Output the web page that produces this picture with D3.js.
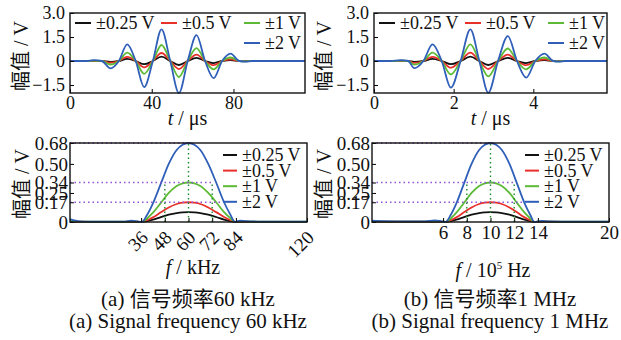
<!DOCTYPE html>
<html>
<head>
<meta charset="utf-8">
<script src="https://cdn.jsdelivr.net/npm/d3@7"></script>
<style>
  body { margin: 0; background: #fff; }
  svg { display: block; font-family: "Liberation Serif", "Noto Sans CJK SC", serif; }
  .domain { display: none; }
</style>
</head>
<body>
<script>
// Chart values

const seriesLabels = ["±0.25 V", "±0.5 V", "±1 V", "±2 V"];

// (a) 60 kHz tone burst, time in us
const time60 = [0, 8, 11.5, 15.6, 19.8, 23.9, 28, 32.15, 36.3, 40.55, 44.8, 49.05, 53.3, 57.6, 61.9, 66.1, 70.3, 74.45, 78.6, 82.8, 86, 89, 115];
const wave60_025 = [0, 0, 0.01, 0, -0.06, 0, 0.13, 0, -0.2, 0, 0.27, 0, -0.25, 0, 0.2, 0, -0.13, 0, 0.06, 0, 0, 0, 0];
const wave60_05 = [0, 0, 0.01, 0, -0.11, 0, 0.26, 0, -0.4, 0, 0.5, 0, -0.5, 0, 0.4, 0, -0.26, 0, 0.11, 0, -0.01, 0, 0];
const wave60_1 = [0, 0, 0.02, 0, -0.22, 0, 0.52, 0, -0.8, 0, 1.0, 0, -1.0, 0, 0.8, 0, -0.52, 0, 0.22, 0, -0.02, 0, 0];
const wave60_2 = [0, 0, 0.05, 0, -0.46, 0, 1.04, 0, -1.63, 0, 1.98, 0, -2.0, 0, 1.62, 0, -1.07, 0, 0.46, 0, -0.04, 0, 0];

// (b) 1 MHz tone burst, time in us
const time1M = [0, 0.4, 0.68, 0.86, 1.01, 1.24, 1.47, 1.7, 1.93, 2.175, 2.42, 2.645, 2.87, 3.115, 3.36, 3.59, 3.82, 4.05, 4.28, 4.5, 4.65, 4.8, 5.85];
const wave1M_025 = [0, 0, 0.01, 0, -0.06, 0, 0.13, 0, -0.2, 0, 0.27, 0, -0.25, 0, 0.2, 0, -0.13, 0, 0.06, 0, 0, 0, 0];
const wave1M_05 = [0, 0, 0.01, 0, -0.12, 0, 0.26, 0, -0.42, 0, 0.52, 0, -0.5, 0, 0.4, 0, -0.26, 0, 0.11, 0, -0.01, 0, 0];
const wave1M_1 = [0, 0, 0.02, 0, -0.23, 0, 0.52, 0, -0.84, 0, 1.04, 0, -0.96, 0, 0.78, 0, -0.52, 0, 0.22, 0, -0.02, 0, 0];
const wave1M_2 = [0, 0, 0.05, 0, -0.45, 0, 1.04, 0, -1.67, 0, 1.98, 0, -1.98, 0, 1.56, 0, -1.04, 0, 0.46, 0, -0.04, 0, 0];

// (a) spectrum, frequency in kHz
const freq60 = [0, 2, 5, 10, 20, 28, 31, 34, 36.3, 39, 42, 46, 50, 54, 57, 60, 63, 66, 70, 74, 78, 81, 83.6, 86, 89, 95, 105, 120];
const spec60_025 = [0.003, 0.002, 0.001, 0.001, 0.001, 0.001, 0.002, 0.001, 0, 0.008, 0.02, 0.042, 0.063, 0.077, 0.083, 0.085, 0.083, 0.077, 0.063, 0.043, 0.021, 0.008, 0, 0.002, 0.001, 0.001, 0.001, 0.001];
const spec60_05 = [0.006, 0.004, 0.002, 0.001, 0.001, 0.001, 0.003, 0.002, 0, 0.015, 0.04, 0.083, 0.125, 0.155, 0.166, 0.17, 0.166, 0.155, 0.125, 0.085, 0.043, 0.017, 0, 0.003, 0.002, 0.001, 0.001, 0.001];
const spec60_1 = [0.01, 0.008, 0.003, 0.002, 0.002, 0.002, 0.006, 0.003, 0, 0.03, 0.08, 0.165, 0.25, 0.31, 0.333, 0.34, 0.333, 0.31, 0.25, 0.17, 0.085, 0.035, 0, 0.006, 0.004, 0.002, 0.002, 0.002];
const spec60_2 = [0.025, 0.015, 0.005, 0.003, 0.003, 0.004, 0.012, 0.006, 0, 0.06, 0.16, 0.33, 0.5, 0.62, 0.665, 0.68, 0.665, 0.62, 0.5, 0.34, 0.17, 0.07, 0, 0.012, 0.008, 0.004, 0.003, 0.003];

// (b) spectrum, frequency in 1e5 Hz
const freq1M = [0, 1, 3, 4.5, 5.3, 5.8, 6.2, 6.64, 7.12, 7.76, 8.4, 9.04, 9.52, 10, 10.48, 10.96, 11.6, 12.24, 12.88, 13.36, 13.7, 14.3, 15, 17, 20];
const spec1M_025 = [0.002, 0.001, 0.001, 0.001, 0.002, 0.001, 0, 0.008, 0.02, 0.042, 0.063, 0.077, 0.083, 0.085, 0.083, 0.077, 0.063, 0.042, 0.02, 0.008, 0, 0.001, 0.001, 0.001, 0.001];
const spec1M_05 = [0.004, 0.002, 0.002, 0.002, 0.004, 0.002, 0, 0.015, 0.04, 0.083, 0.125, 0.155, 0.166, 0.17, 0.166, 0.155, 0.125, 0.083, 0.04, 0.015, 0, 0.002, 0.002, 0.001, 0.001];
const spec1M_1 = [0.006, 0.004, 0.003, 0.003, 0.006, 0.004, 0, 0.03, 0.08, 0.165, 0.25, 0.31, 0.333, 0.34, 0.333, 0.31, 0.25, 0.165, 0.08, 0.03, 0, 0.005, 0.003, 0.002, 0.002];
const spec1M_2 = [0.012, 0.008, 0.006, 0.006, 0.014, 0.008, 0, 0.06, 0.16, 0.33, 0.5, 0.62, 0.665, 0.68, 0.665, 0.62, 0.5, 0.33, 0.16, 0.06, 0, 0.01, 0.006, 0.004, 0.004];

// tick values
const waveYTicks = [-1.5, 0, 1.5, 3.0];
const time60Ticks = [0, 40, 80];
const time1MTicks = [0, 2, 4];
const specYTicks = [0, 0.17, 0.25, 0.34, 0.5, 0.68];
const freq60Ticks = [36, 48, 60, 72, 84, 120];
const freq1MTicks = [6, 8, 10, 12, 14, 20];

// marker guides: [center, lower, upper]
const marks60 = [60, 48, 72];
const marks1M = [10, 8, 12];

const colors = ["#111111", "#e8302b", "#5dba36", "#2f5fb8"];

////////////////////////////////////////////////////////////////////////////////

const width = 621;
const height = 340;

const svg = d3.select("body")
    .append("svg")
    .attr("width", width)
    .attr("height", height);

function zipSeries(xs, ys) {
  return xs.map((x, i) => [x, ys[i]]);
}

// Wave panels (top row)

function wavePanel(opt) {
  const x = d3.scaleLinear().domain(opt.xDomain).range([opt.left, opt.right]);
  const y = d3.scaleLinear().domain([-2, 3]).range([93, 13]);

  const line = d3.line()
      .x(d => x(d[0]))
      .y(d => y(d[1]))
      .curve(d3.curveMonotoneX);

  const g = svg.append("g");

  opt.series.forEach((s, i) => {
    g.append("path")
        .datum(zipSeries(opt.xs, s))
        .attr("fill", "none")
        .attr("stroke", colors[i])
        .attr("stroke-width", 1.8)
        .attr("d", line);
  });

  g.append("g")
      .attr("transform", "translate(0,93)")
      .call(d3.axisBottom(x).tickValues(opt.xTicks).tickSize(-4).tickPadding(3).tickFormat(d3.format("d")))
      .call(a => a.selectAll("text").attr("font-size", 18).attr("font-family", "Liberation Serif").attr("fill", "#111"));

  g.append("g")
      .attr("transform", "translate(" + opt.left + ",0)")
      .call(d3.axisLeft(y).tickValues(waveYTicks).tickSize(-4).tickPadding(5)
        .tickFormat(d => d === 0 ? "0" : d3.format(".1f")(d).replace("-", "\u2212")))
      .call(a => a.selectAll("text").attr("font-size", 18).attr("font-family", "Liberation Serif").attr("fill", "#111"));

  g.append("rect")
      .attr("x", opt.left).attr("y", 13)
      .attr("width", opt.right - opt.left).attr("height", 80)
      .attr("fill", "none").attr("stroke", "#111").attr("stroke-width", 1.4);

  // legend: three items on row one, last one below the third
  const legendPos = [[opt.left + 5, 23], [opt.left + 91, 23], [opt.left + 174, 23], [opt.left + 174, 43]];
  legendPos.forEach((p, i) => {
    g.append("line")
        .attr("x1", p[0]).attr("x2", p[0] + 16)
        .attr("y1", p[1]).attr("y2", p[1])
        .attr("stroke", colors[i]).attr("stroke-width", 2);
    g.append("text")
        .attr("x", p[0] + 21).attr("y", p[1] + 6)
        .attr("font-size", 18).attr("fill", "#111")
        .text(seriesLabels[i]);
  });

  const title = g.append("text")
      .attr("x", (opt.left + opt.right) / 2).attr("y", 125)
      .attr("text-anchor", "middle").attr("font-size", 20).attr("fill", "#111");
  title.append("tspan").attr("font-style", "italic").text("t");
  title.append("tspan").text(" / μs");

  g.append("text")
      .attr("transform", "translate(" + opt.yTitleX + ",56) rotate(-90)")
      .attr("text-anchor", "middle").attr("font-size", 20).attr("fill", "#111")
      .text("幅值 / V");
}

// Spectrum panels (bottom row)

function specPanel(opt) {
  const x = d3.scaleLinear().domain(opt.xDomain).range([opt.left, opt.right]);
  const y = d3.scaleLinear().domain([0, 0.68]).range([222, 143]);

  const line = d3.line()
      .x(d => x(d[0]))
      .y(d => y(d[1]))
      .curve(d3.curveMonotoneX);

  const g = svg.append("g");

  opt.series.forEach((s, i) => {
    g.append("path")
        .datum(zipSeries(opt.xs, s))
        .attr("fill", "none")
        .attr("stroke", colors[i])
        .attr("stroke-width", 1.8)
        .attr("d", line);
  });

  // dotted guides
  const m = opt.marks;
  const hGuides = [[0.68, m[0]], [0.34, m[2]], [0.17, opt.lowGuideEnd]];
  hGuides.forEach(h => {
    g.append("line")
        .attr("x1", opt.left).attr("x2", x(h[1]))
        .attr("y1", y(h[0])).attr("y2", y(h[0]))
        .attr("stroke", "#8e55d6").attr("stroke-width", 1.4)
        .attr("stroke-dasharray", "1.5,3");
  });
  const vGuides = [[m[0], 0.68], [m[1], 0.34], [m[2], 0.34]];
  vGuides.forEach(v => {
    g.append("line")
        .attr("x1", x(v[0])).attr("x2", x(v[0]))
        .attr("y1", y(0)).attr("y2", y(v[1]))
        .attr("stroke", "#1f8a2a").attr("stroke-width", 1.4)
        .attr("stroke-dasharray", "1.5,3");
  });

  const xAxis = g.append("g")
      .attr("transform", "translate(0,222)")
      .call(d3.axisBottom(x).tickValues(opt.xTicks).tickSize(-4).tickPadding(4).tickFormat(d3.format("d")));
  xAxis.selectAll("text")
      .attr("font-size", 19).attr("font-family", "Liberation Serif").attr("fill", "#111");
  if (opt.rotate) {
    xAxis.selectAll("text")
        .attr("y", 0).attr("dy", "0.35em")
        .attr("text-anchor", "end")
        .attr("transform", "translate(3,12) rotate(-45)");
  }

  g.append("g")
      .attr("transform", "translate(" + opt.left + ",0)")
      .call(d3.axisLeft(y).tickValues(specYTicks).tickSize(-4).tickPadding(2)
        .tickFormat(d => d === 0 ? "0" : d3.format(".2f")(d)))
      .call(a => a.selectAll("text").attr("font-size", 19).attr("font-family", "Liberation Serif").attr("fill", "#111"));

  g.append("rect")
      .attr("x", opt.left).attr("y", 143)
      .attr("width", opt.right - opt.left).attr("height", 79)
      .attr("fill", "none").attr("stroke", "#111").attr("stroke-width", 1.4);

  seriesLabels.forEach((label, i) => {
    const ly = 155 + i * 15.6;
    g.append("line")
        .attr("x1", opt.legendX).attr("x2", opt.legendX + 14)
        .attr("y1", ly).attr("y2", ly)
        .attr("stroke", colors[i]).attr("stroke-width", 2);
    g.append("text")
        .attr("x", opt.legendX + 19).attr("y", ly + 6)
        .attr("font-size", 18).attr("fill", "#111")
        .text(label);
  });

  const title = g.append("text")
      .attr("x", opt.titleX).attr("y", opt.titleY)
      .attr("text-anchor", "middle").attr("font-size", 20).attr("fill", "#111");
  title.append("tspan").attr("font-style", "italic").text("f");
  title.append("tspan").text(" / " + opt.unit[0]);
  if (opt.unit.length > 1) {
    title.append("tspan").attr("font-size", 11).attr("dy", -8).text(opt.unit[1]);
    title.append("tspan").attr("dy", 8).text(opt.unit[2]);
  }

  g.append("text")
      .attr("transform", "translate(" + opt.yTitleX + ",184) rotate(-90)")
      .attr("text-anchor", "middle").attr("font-size", 20).attr("fill", "#111")
      .text("幅值 / V");
}

wavePanel({
  left: 70, right: 305, xDomain: [0, 115], xs: time60, xTicks: time60Ticks,
  series: [wave60_025, wave60_05, wave60_1, wave60_2], yTitleX: 28
});

wavePanel({
  left: 374, right: 607, xDomain: [0, 5.85], xs: time1M, xTicks: time1MTicks,
  series: [wave1M_025, wave1M_05, wave1M_1, wave1M_2], yTitleX: 331
});

specPanel({
  left: 70, right: 307, xDomain: [0, 120], xs: freq60, xTicks: freq60Ticks,
  series: [spec60_025, spec60_05, spec60_1, spec60_2], marks: marks60, lowGuideEnd: 80,
  rotate: true, legendX: 223, titleX: 193, titleY: 274, unit: ["kHz"], yTitleX: 29
});

specPanel({
  left: 372, right: 609, xDomain: [0, 20], xs: freq1M, xTicks: freq1MTicks,
  series: [spec1M_025, spec1M_05, spec1M_1, spec1M_2], marks: marks1M, lowGuideEnd: 12.8,
  rotate: false, legendX: 525, titleX: 493, titleY: 277, unit: ["10", "5", " Hz"], yTitleX: 331
});

// captions
const captions = [
  [188, "(a) 信号频率60 kHz", "(a) Signal frequency 60 kHz"],
  [490, "(b) 信号频率1 MHz", "(b) Signal frequency 1 MHz"]
];
captions.forEach(c => {
  svg.append("text")
      .attr("x", c[0]).attr("y", 306)
      .attr("text-anchor", "middle").attr("font-size", 21).attr("fill", "#111")
      .text(c[1]);
  svg.append("text")
      .attr("x", c[0]).attr("y", 328)
      .attr("text-anchor", "middle").attr("font-size", 21).attr("fill", "#111")
      .text(c[2]);
});
</script>
</body>
</html>
